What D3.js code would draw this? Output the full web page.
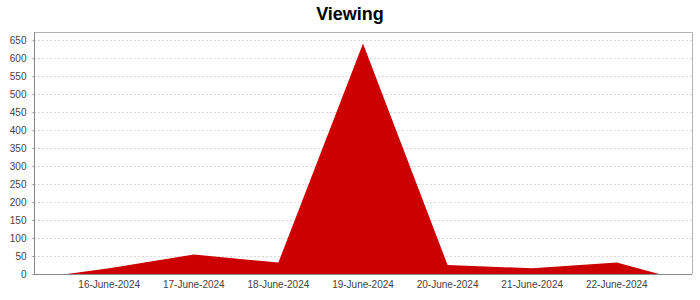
<!DOCTYPE html>
<html>
<head>
<meta charset="utf-8">
<script src="https://cdn.jsdelivr.net/npm/d3@7.9.0/dist/d3.min.js"></script>
<style>
  body { margin: 0; background: #fff; }
  svg { display: block; font-family: "Liberation Sans", Arial, sans-serif; }
</style>
</head>
<body>
<svg id="chart" width="700" height="300"></svg>
<script>
const days = ['16-June-2024', '17-June-2024', '18-June-2024', '19-June-2024',
              '20-June-2024', '21-June-2024', '22-June-2024'];
const views = [16, 54, 32, 641, 25, 16, 32];
const yTicks = d3.range(0, 651, 50);

const W = 700, H = 300;
const plot = { left: 34, top: 32, right: 692, bottom: 274 };
const svg = d3.select('#chart');

// category axis with 5% margins on each side, like the original
const margin = (plot.right - plot.left) * 0.05;
const x = d3.scaleBand()
  .domain(days)
  .range([plot.left + margin, plot.right - margin])
  .padding(0);

const y = d3.scaleLinear()
  .domain([0, d3.max(views) * 1.05])
  .range([plot.bottom, plot.top]);

// grid
svg.append('g')
  .selectAll('line')
  .data(yTicks.filter(d => d > 0))
  .join('line')
  .attr('x1', plot.left).attr('x2', plot.right)
  .attr('y1', d => Math.round(y(d)) + 0.5).attr('y2', d => Math.round(y(d)) + 0.5)
  .attr('stroke', '#d8d8d8')
  .attr('stroke-dasharray', '2,2');

// area, tapered to zero at the outer category edges
const pts = [{ px: x(days[0]), v: 0 }];
days.forEach((d, i) => pts.push({ px: x(d) + x.bandwidth() / 2, v: views[i] }));
pts.push({ px: x(days[days.length - 1]) + x.bandwidth(), v: 0 });

const area = d3.area()
  .x(d => d.px)
  .y0(y(0))
  .y1(d => y(d.v));

svg.append('path')
  .datum(pts)
  .attr('d', area)
  .attr('fill', '#cc0000');

// plot border (top/right)
svg.append('path')
  .attr('d', `M${plot.left},${plot.top + 0.5}H${plot.right + 0.5}V${plot.bottom}`)
  .attr('fill', 'none')
  .attr('stroke', '#b4b4b4');

// y axis
const yAxis = svg.append('g')
  .attr('transform', `translate(${plot.left + 0.5},0)`)
  .call(d3.axisLeft(y).tickValues(yTicks).tickSize(2).tickPadding(6).tickSizeOuter(0));
yAxis.select('.domain').attr('stroke', '#888').attr('d', `M0,${plot.top}V${plot.bottom}`);
yAxis.selectAll('.tick line').attr('stroke', '#888');
yAxis.selectAll('.tick text').attr('font-size', 10).attr('fill', '#444')
  .attr('font-family', '"Liberation Sans", Arial, sans-serif');

// x axis
const xAxis = svg.append('g')
  .attr('transform', `translate(0,${plot.bottom + 0.5})`)
  .call(d3.axisBottom(x).tickSize(0).tickPadding(6).tickSizeOuter(0));
xAxis.select('.domain').attr('stroke', '#888').attr('d', `M${plot.left},0H${plot.right}`);
xAxis.selectAll('.tick text').attr('font-size', 10).attr('fill', '#444')
  .attr('font-family', '"Liberation Sans", Arial, sans-serif');

// title
svg.append('text')
  .attr('x', W / 2)
  .attr('y', 20)
  .attr('text-anchor', 'middle')
  .attr('font-size', 18)
  .attr('font-weight', 'bold')
  .attr('fill', '#000')
  .text('Viewing');
</script>
</body>
</html>
